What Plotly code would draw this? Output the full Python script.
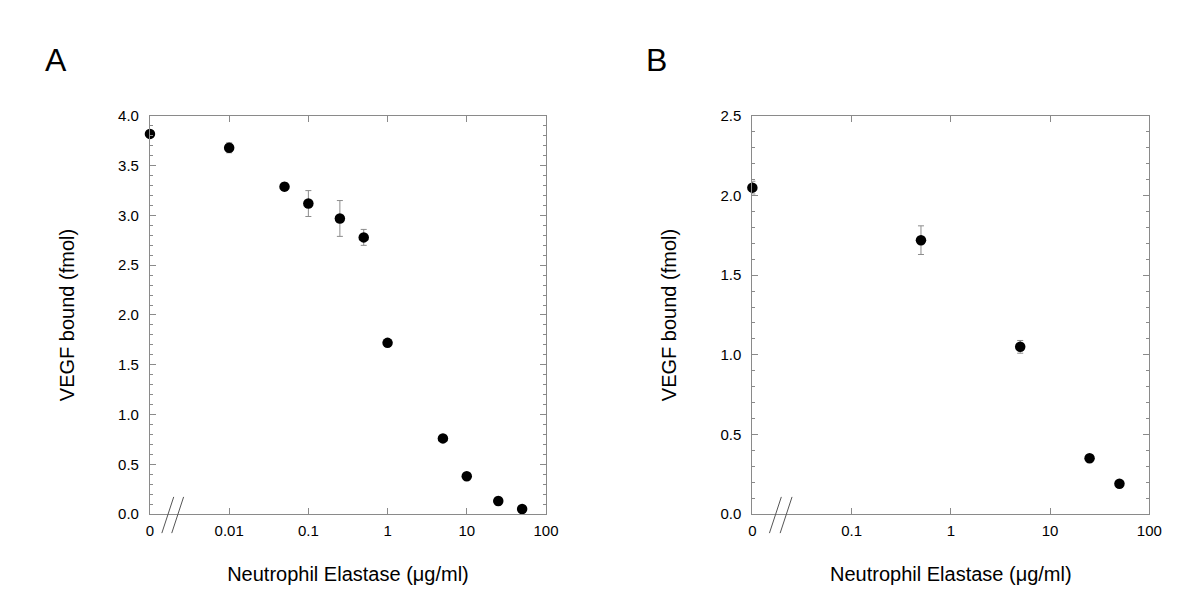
import plotly.graph_objects as go

# ---------------- data ----------------
# Panel A
conc_a = [0, 0.01, 0.05, 0.1, 0.25, 0.5, 1, 5, 10, 25, 50]
vegf_a = [3.82, 3.68, 3.29, 3.12, 2.97, 2.78, 1.72, 0.76, 0.38, 0.13, 0.05]
err_a = [0.02, 0.05, 0.04, 0.13, 0.18, 0.08, 0.02, 0.02, 0.02, 0.04, 0.02]
# Panel B
conc_b = [0, 0.5, 5, 25, 50]
vegf_b = [2.05, 1.72, 1.05, 0.35, 0.19]
err_b = [0.04, 0.09, 0.04, 0.02, 0.02]

# axis-break positions used to plot the "0" concentration on a log axis
zero_pos_a = 0.001
zero_pos_b = 0.01

xtick_vals_a = [0.001, 0.01, 0.1, 1, 10, 100]
xtick_text_a = ["0", "0.01", "0.1", "1", "10", "100"]
xtick_vals_b = [0.01, 0.1, 1, 10, 100]
xtick_text_b = ["0", "0.1", "1", "10", "100"]

x_title = "Neutrophil Elastase (\u03bcg/ml)"
y_title = "VEGF bound (fmol)"

FONT = "Liberation Sans, Arial, sans-serif"
AXIS_COL = "#8a8a8a"
ERR_COL = "#8c8c8c"

xa = [zero_pos_a if c == 0 else c for c in conc_a]
xb = [zero_pos_b if c == 0 else c for c in conc_b]

fig = go.Figure()

fig.add_trace(go.Scatter(
    x=xa, y=vegf_a, mode="markers", xaxis="x", yaxis="y",
    marker=dict(color="black", size=10.5, symbol="circle"),
    error_y=dict(type="data", array=err_a, visible=True, color=ERR_COL,
                 thickness=1, width=3),
    showlegend=False, cliponaxis=False))

fig.add_trace(go.Scatter(
    x=xb, y=vegf_b, mode="markers", xaxis="x2", yaxis="y2",
    marker=dict(color="black", size=10.5, symbol="circle"),
    error_y=dict(type="data", array=err_b, visible=True, color=ERR_COL,
                 thickness=1, width=3),
    showlegend=False, cliponaxis=False))

common_x = dict(type="log", showgrid=False, zeroline=False, showline=True,
                linecolor=AXIS_COL, linewidth=1, mirror="allticks",
                ticks="inside", ticklen=6, tickcolor=AXIS_COL, tickwidth=1,
                ticklabelstandoff=3,
                tickfont=dict(family=FONT, size=15, color="black"),
                title=dict(text=x_title, font=dict(family=FONT, size=20, color="black"),
                           standoff=28),
                automargin=False)
common_y = dict(showgrid=False, zeroline=False, showline=True,
                linecolor=AXIS_COL, linewidth=1, mirror="allticks",
                ticks="inside", ticklen=6, tickcolor=AXIS_COL, tickwidth=1,
                ticklabelstandoff=7,
                dtick=0.5, tickformat=".1f",
                minor=dict(dtick=0.1, ticks="inside", ticklen=3,
                           tickcolor=AXIS_COL, tickwidth=1, showgrid=False),
                tickfont=dict(family=FONT, size=15, color="black"),
                title=dict(text=y_title, font=dict(family=FONT, size=20, color="black"),
                           standoff=38),
                automargin=False)

fig.update_layout(
    width=1200, height=609,
    margin=dict(l=0, r=0, t=0, b=0),
    paper_bgcolor="white", plot_bgcolor="white",
    font=dict(family=FONT, color="black"),
    xaxis=dict(common_x, domain=[0.1183, 0.4483], range=[-3, 2],
               tickvals=xtick_vals_a, ticktext=xtick_text_a, anchor="y"),
    yaxis=dict(common_y, domain=[0.1691, 0.8227], range=[0, 4.0], anchor="x"),
    xaxis2=dict(common_x, domain=[0.6203, 0.9511], range=[-2, 2],
                tickvals=xtick_vals_b, ticktext=xtick_text_b, anchor="y2"),
    yaxis2=dict(common_y, domain=[0.1691, 0.8227], range=[0, 2.5], anchor="x2"),
)

# axis-break marks "//"
for xref, yref, offs in [("x domain", "y domain", [0.03, 0.055]),
                         ("x2 domain", "y2 domain", [0.043, 0.070])]:
    for o in offs:
        fig.add_shape(type="line", xref=xref, yref=yref,
                      x0=o, y0=-0.048, x1=o + 0.03, y1=0.043,
                      line=dict(color="#555555", width=1))

fig.add_annotation(text="A", xref="paper", yref="paper", x=0.0396, y=0.9146,
                   xanchor="center", yanchor="middle",
                   showarrow=False, font=dict(family=FONT, size=32, color="black"))
fig.add_annotation(text="B", xref="paper", yref="paper", x=0.5408, y=0.9146,
                   xanchor="center", yanchor="middle",
                   showarrow=False, font=dict(family=FONT, size=32, color="black"))

fig.write_html("out.html")
